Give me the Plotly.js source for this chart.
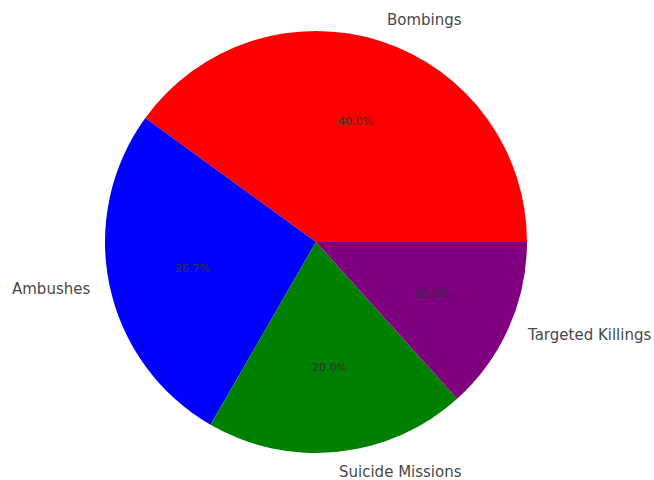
<!DOCTYPE html>
<html>
<head>
<meta charset="utf-8">
<script src="https://cdn.plot.ly/plotly-3.0.1.min.js"></script>
<style>html,body{margin:0;padding:0;background:#fff;}#chart{width:654px;height:480px;}</style>
</head>
<body>
<div id="chart"></div>
<script>
const categories = ["Bombings", "Ambushes", "Suicide Missions", "Targeted Killings"];
const values = [30, 20, 15, 10];
const colors = ["red", "blue", "green", "purple"];

const W = 654, H = 480;
const cx = 316, cy = 242, r = 211;

const total = values.reduce((a, b) => a + b, 0);
const annotations = [];
let start = 0;
values.forEach((v, i) => {
  const frac = v / total;
  const mid = (start + frac / 2) * 2 * Math.PI;
  start += frac;
  const c = Math.cos(mid), s = Math.sin(mid);
  annotations.push({
    xref: 'paper', yref: 'paper',
    x: (cx + 1.1 * r * c) / W, y: 1 - (cy - 1.1 * r * s) / H,
    text: categories[i], showarrow: false, borderpad: 0,
    xshift: c > 0 ? -2 : 2, yshift: 1,
    xanchor: c > 0 ? 'left' : 'right', yanchor: 'middle',
    font: {family: 'DejaVu Sans', size: 15, color: '#484848'}
  });
  annotations.push({
    xref: 'paper', yref: 'paper',
    x: (cx + 0.6 * r * c) / W, y: 1 - (cy - 0.6 * r * s) / H,
    text: (frac * 100).toFixed(1) + '%', showarrow: false, borderpad: 0,
    xanchor: 'center', yanchor: 'middle',
    font: {family: 'DejaVu Sans', size: 11, color: '#333'}
  });
});

// first slice starts at 3 o'clock and runs counterclockwise
const firstFrac = values[0] / total;
const data = [{
  type: 'pie',
  labels: categories,
  values: values,
  marker: {colors: colors, line: {width: 0}},
  sort: false,
  direction: 'counterclockwise',
  rotation: 90 - firstFrac * 360,
  textinfo: 'none',
  hoverinfo: 'label+percent',
  domain: {x: [(cx - r) / W, (cx + r) / W], y: [1 - (cy + r) / H, 1 - (cy - r) / H]}
}];

const layout = {
  width: W, height: H,
  margin: {l: 0, r: 0, t: 0, b: 0},
  showlegend: false,
  paper_bgcolor: '#fff',
  annotations: annotations
};

Plotly.newPlot('chart', data, layout, {displayModeBar: false, staticPlot: true});
</script>
</body>
</html>
